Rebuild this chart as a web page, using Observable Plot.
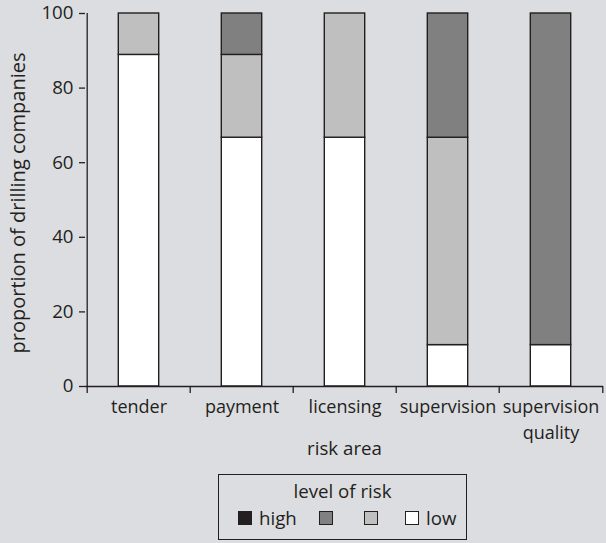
<!DOCTYPE html>
<html><head><meta charset="utf-8">
<script src="https://cdn.jsdelivr.net/npm/d3@7"></script>
<script src="https://cdn.jsdelivr.net/npm/@observablehq/plot@0.6"></script>
<style>
  html,body{margin:0;padding:0;background:#dcdde0;}
  body{width:606px;height:543px;overflow:hidden;font-family:"Open Sans",sans-serif;color:#231f20;}
  #legend{position:absolute;left:218px;top:474px;width:249px;height:66px;border:1.3px solid #231f20;box-sizing:border-box;font-size:18.7px;}
  #legend .title{text-align:center;margin-top:3px;line-height:25px;}
  #legend .items{position:relative;height:25px;}
  #legend .sw{position:absolute;top:8px;width:14px;height:14px;border:1.3px solid #231f20;box-sizing:border-box;}
  #legend .lb{position:absolute;top:2px;line-height:25px;}
</style></head>
<body>
<div id="chart"></div>
<div id="legend"><div class="title">level of risk</div><div class="items" id="items"></div></div>
<script>
const categories = ["tender", "payment", "licensing", "supervision", "supervision quality"];
const levels = ["low", "level2", "level3", "high"];           // bottom to top
const levelColors = ["#ffffff", "#bfbfbf", "#808080", "#231f20"];
const legendLevels = ["high", "level3", "level2", "low"];
const legendLabels = ["high", "", "", "low"];
const lowValues    = [88.9, 66.7, 66.7, 11.1, 11.1];
const level2Values = [11.1, 22.2, 33.3, 55.6, 0];
const level3Values = [0, 11.1, 0, 33.3, 88.9];
const highValues   = [0, 0, 0, 0, 0];
const yTicks = [0, 20, 40, 60, 80, 100];

const series = [lowValues, level2Values, level3Values, highValues];
const data = [];
categories.forEach((c, i) => levels.forEach((l, j) => {
  if (series[j][i] > 0) data.push({category: c, level: l, value: series[j][i]});
}));

const W = 606, H = 462, mL = 85, mR = 3, mT = 13, mB = 76;
const FS = 18.7;
const bw = (W - mL - mR) / categories.length;
const tickLen = 7 * 100 / (H - mT - mB); // 7px in data units below zero
const axisStyle = {stroke: "#231f20", strokeWidth: 1.3};

const plot = Plot.plot({
  width: W, height: H,
  marginLeft: mL, marginRight: mR, marginTop: mT, marginBottom: mB,
  style: {background: "transparent", fontFamily: "'Open Sans', sans-serif", fontSize: FS + "px", color: "#231f20"},
  x: {domain: categories, padding: 0, label: null},
  y: {domain: [0, 100], label: null},
  color: {domain: levels, range: levelColors},
  marks: [
    Plot.barY(data, Plot.stackY({order: levels, x: "category", y: "value", z: "level", fill: "level",
      stroke: "#231f20", strokeWidth: 1.4, insetLeft: 31.3, insetRight: 31.3})),
    Plot.axisY({ticks: yTicks, tickSize: 6, tickPadding: 6, label: null, stroke: "#231f20", strokeWidth: 1.3, fontSize: FS}),
    Plot.ruleY([0], axisStyle),
    Plot.axisX({tickSize: 0, tickPadding: 8, label: null, fontSize: 18,
      tickFormat: d => d === "supervision quality" ? "supervision\nquality" : d, lineHeight: 1.45}),
    Plot.ruleX(categories, {x: d => d, dx: -bw / 2, y1: 0, y2: -tickLen, ...axisStyle}),
    Plot.ruleX([categories[categories.length - 1]], {x: d => d, dx: bw / 2, y1: 0, y2: -tickLen, ...axisStyle}),
    Plot.ruleX([categories[0]], {x: d => d, dx: -bw / 2, y1: 0, y2: 100, ...axisStyle}),
    Plot.text(["risk area"], {frameAnchor: "bottom", dy: 68, fontSize: FS, fill: "#231f20"}),
    Plot.text(["proportion of drilling companies"], {frameAnchor: "left", dx: -67, dy: 3, rotate: -90, textAnchor: "middle", fontSize: 20, fill: "#231f20"})
  ]
});
document.getElementById("chart").appendChild(plot);

// legend
const items = document.getElementById("items");
const swX = [19, 100, 145, 186];
legendLevels.forEach((l, i) => {
  const s = document.createElement("div");
  s.className = "sw";
  s.style.left = swX[i] + "px";
  s.style.background = levelColors[levels.indexOf(l)];
  items.appendChild(s);
  if (legendLabels[i]) {
    const t = document.createElement("div");
    t.className = "lb";
    t.style.left = (swX[i] + 21) + "px";
    t.textContent = legendLabels[i];
    items.appendChild(t);
  }
});
</script>
</body></html>
